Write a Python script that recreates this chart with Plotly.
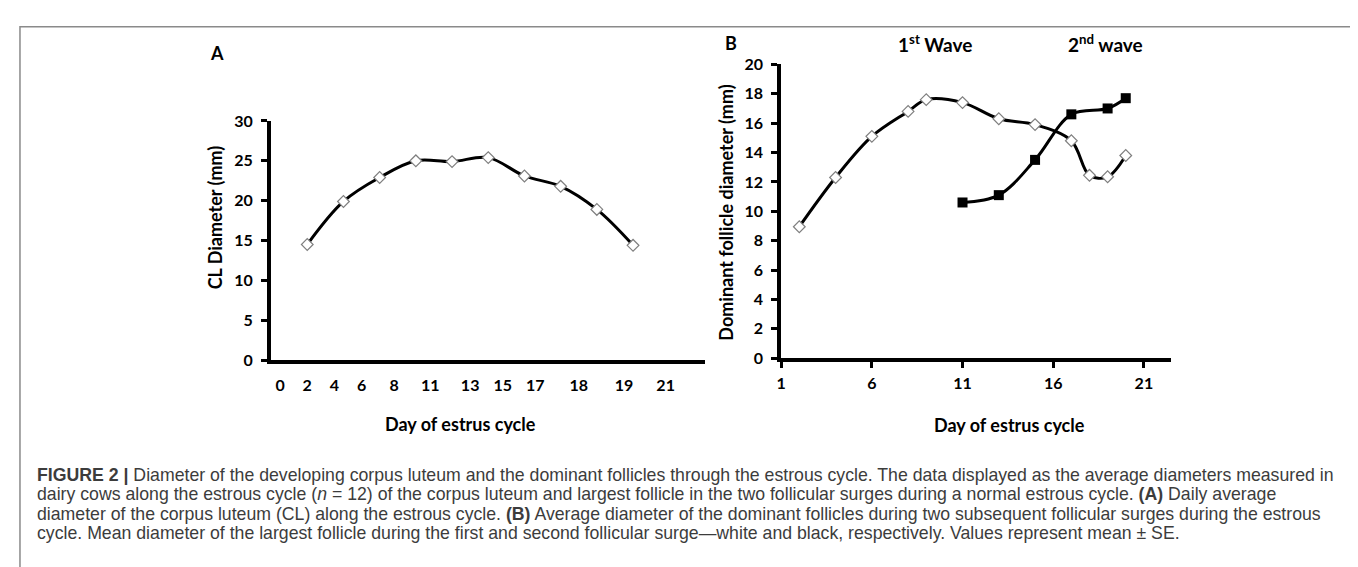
import plotly.graph_objects as go

W, H = 1358, 567

# ---------------- data ----------------
# Panel A: CL diameter
A_DAYS = [2, 4, 6, 8, 10, 12, 14, 16, 18, 20]
A_CL = [14.5, 19.9, 22.9, 25.0, 24.9, 25.4, 23.1, 21.8, 18.9, 14.4]
A_TICK_POS = [0.5, 2.0, 3.5, 5.0, 6.8, 8.8, 11.0, 12.8, 14.6, 17.0, 19.5, 21.8]
A_TICK_TEXT = ["0", "2", "4", "6", "8", "11", "13", "15", "17", "18", "19", "21"]
A_Y_TICKS = [0, 5, 10, 15, 20, 25, 30]

# Panel B: dominant follicle diameter
B1_DAYS = [2, 4, 6, 8, 9, 11, 13, 15, 17, 18, 19, 20]
B1_VALS = [8.95, 12.3, 15.1, 16.8, 17.6, 17.4, 16.3, 15.9, 14.8, 12.45, 12.35, 13.8]
B2_DAYS = [11, 13, 15, 17, 19, 20]
B2_VALS = [10.6, 11.1, 13.5, 16.6, 17.0, 17.7]
B_X_TICKS = [1, 6, 11, 16, 21]
B_Y_TICKS = [0, 2, 4, 6, 8, 10, 12, 14, 16, 18, 20]

CAPTION = [
    "<b>FIGURE 2 |</b> Diameter of the developing corpus luteum and the dominant follicles through the estrous cycle. The data displayed as the average diameters measured in",
    "dairy cows along the estrous cycle (<i>n</i> = 12) of the corpus luteum and largest follicle in the two follicular surges during a normal estrous cycle. <b>(A)</b> Daily average",
    "diameter of the corpus luteum (CL) along the estrous cycle. <b>(B)</b> Average diameter of the dominant follicles during two subsequent follicular surges during the estrous",
    "cycle. Mean diameter of the largest follicle during the first and second follicular surge\u2014white and black, respectively. Values represent mean \u00b1 SE.",
]

# ---------------- helpers ----------------
def px(x):
    return x / W

def py(y):
    return 1 - y / H

FONT = "Lato, Carlito, Calibri, sans-serif"
CAP_FONT = "Liberation Sans, Arial, Helvetica, sans-serif"

fig = go.Figure()

diamond = dict(symbol="diamond", size=9, color="white", line=dict(color="#7f7f7f", width=1.2))

fig.add_trace(go.Scatter(
    x=A_DAYS, y=A_CL, xaxis="x", yaxis="y", mode="lines+markers",
    line=dict(color="black", width=3, shape="spline", smoothing=1.0),
    marker=diamond, cliponaxis=False, showlegend=False))

fig.add_trace(go.Scatter(
    x=B1_DAYS, y=B1_VALS, xaxis="x2", yaxis="y2", mode="lines+markers",
    line=dict(color="black", width=3, shape="spline", smoothing=1.0),
    marker=diamond, cliponaxis=False, showlegend=False))

fig.add_trace(go.Scatter(
    x=B2_DAYS, y=B2_VALS, xaxis="x2", yaxis="y2", mode="lines+markers",
    line=dict(color="black", width=3, shape="spline", smoothing=1.0),
    marker=dict(symbol="square", size=10, color="black"),
    cliponaxis=False, showlegend=False))

tickfont = dict(family=FONT, size=16, color="black", weight="bold")
axis_common = dict(showgrid=False, zeroline=False, showline=True, linecolor="black",
                   linewidth=4, tickfont=tickfont, fixedrange=True)

fig.update_layout(
    width=W, height=H,
    margin=dict(l=0, r=0, t=0, b=0),
    paper_bgcolor="white", plot_bgcolor="white",
    xaxis=dict(domain=[px(259), px(695)], range=[0, 24], tickmode="array",
               tickvals=A_TICK_POS, ticktext=A_TICK_TEXT, ticks="", anchor="y",
               ticklabelstandoff=8, **axis_common),
    yaxis=dict(domain=[py(354), py(106.5)], range=[0, 30], tickmode="array",
               tickvals=A_Y_TICKS, ticks="outside", ticklen=6, tickwidth=3,
               tickcolor="black", anchor="x", ticklabelstandoff=5, **axis_common),
    xaxis2=dict(domain=[px(771), px(1162)], range=[1, 22.48], tickmode="array",
                tickvals=B_X_TICKS, ticks="outside", ticklen=6, tickwidth=3,
                tickcolor="black", anchor="y2", ticklabelstandoff=2, **axis_common),
    yaxis2=dict(domain=[py(352), py(48)], range=[0, 20], tickmode="array",
                tickvals=B_Y_TICKS, ticks="outside", ticklen=6, tickwidth=3,
                tickcolor="black", anchor="x2", ticklabelstandoff=5, **axis_common),
)

ann = []
def label(text, x, y, size=15, angle=0, xanchor="center", family=FONT, color="black", bold=True):
    ann.append(dict(text=text, x=px(x), y=py(y), xref="paper", yref="paper",
                    showarrow=False, textangle=angle, xanchor=xanchor, yanchor="middle",
                    font=dict(family=family, size=size, color=color,
                              weight="bold" if bold else "normal")))

label("A", 205, 36, size=18)
label("B", 721, 26, size=18)
label("1<sup>st</sup> Wave", 925, 26, size=19)
label("2<sup>nd</sup> wave", 1097, 26, size=19)
label("CL Diameter (mm)", 203, 206, size=18, angle=-90)
label("Dominant follicle diameter (mm)", 716, 201, size=18, angle=-90)
label("Day of estrus cycle", 449, 420, size=18)
label("Day of estrus cycle", 1000, 421, size=18)

for i, line in enumerate(CAPTION):
    label(line, 22, 473 + 20 * i, size=17.7, xanchor="left", family=CAP_FONT,
          color="#3c3c3c", bold=False)

fig.update_layout(annotations=ann)

# figure border (open at the bottom, like the cropped reference)
fig.add_shape(type="path", xref="paper", yref="paper",
              path=f"M {px(7)} -0.05 L {px(7)} {py(9)} L {px(1356)} {py(9)} L {px(1356)} -0.05",
              line=dict(color="#8a8a8a", width=1.5))

fig.write_html("out.html")
